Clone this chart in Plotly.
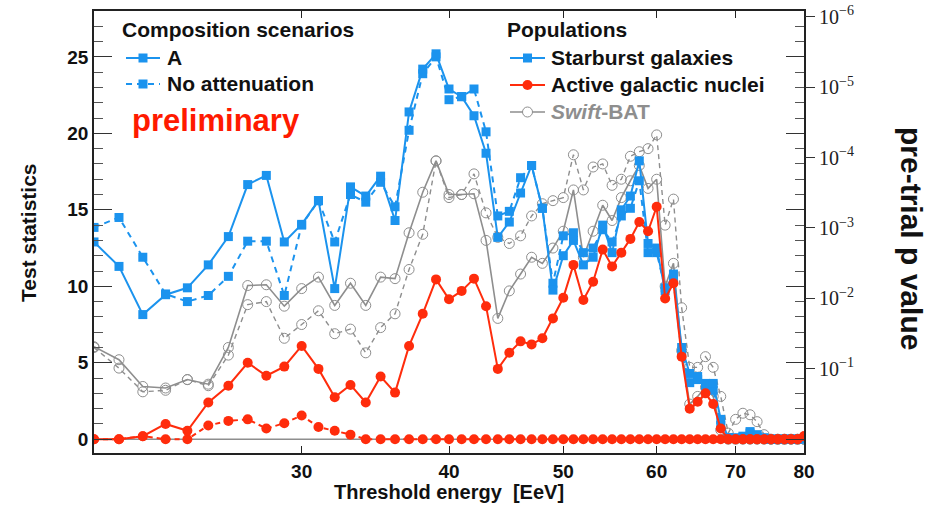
import numpy as np
import plotly.graph_objects as go

# Threshold energies [EeV]
energy = [20, 21, 22, 23, 24, 25, 26, 27, 28, 29,
          30, 31, 32, 33, 34, 35, 36, 37, 38, 39,
          40, 41, 42, 43, 44, 45, 46, 47, 48, 49,
          50, 51, 52, 53, 54, 55, 56, 57, 58, 59,
          60, 61, 62, 63, 64, 65, 66, 67, 68, 69,
          70, 71, 72, 73, 74, 75, 76, 77, 78, 79, 80]

# Test statistics, starburst galaxies
sbg_a = [12.9, 11.3, 8.15, 9.45, 9.9, 11.4, 13.25, 16.65, 17.25, 12.9,
         14.05, 15.6, 9.85, 16.5, 15.9, 17.2, 14.3, 21.4, 24.2, 25.2,
         22.9, 22.4, 21.15, 18.7, 13.2, 14.2, 16.1, 17.9, 15.1, 9.75,
         12.0, 13.0, 11.4, 11.9, 14.0, 12.2, 15.0, 15.9, 18.2, 12.8,
         12.5, 9.7, 10.8, 6.0, 4.3, 4.1, 3.65, 3.65, 1.3, 0.1,
         0.05, 0.1, 0.5, 0.2, 0.05, 0.0, 0.0, 0.0, 0.0, 0.0, 0.05]
sbg_noatt = [13.85, 14.5, 11.9, 9.5, 9.0, 9.4, 10.65, 12.95, 12.95, 9.4,
             14.0, 15.6, 12.9, 16.0, 15.5, 16.8, 15.2, 20.2, 23.9, 25.0,
             22.2, 22.4, 22.9, 20.1, 14.6, 14.9, 17.1, 17.9, 15.1, 10.2,
             13.3, 13.5, 12.2, 12.5, 13.7, 12.9, 14.6, 15.1, 16.9, 12.2,
             12.2, 9.9, 10.4, 5.6, 3.7, 3.9, 3.5, 3.2, 0.9, 0.1,
             0.1, 0.2, 0.4, 0.3, 0.1, 0.0, 0.0, 0.0, 0.0, 0.0, 0.0]

# Test statistics, active galactic nuclei
agn_a = [0.0, 0.0, 0.2, 1.0, 0.55, 2.4, 3.5, 5.0, 4.15, 4.75,
         6.1, 4.6, 2.75, 3.55, 2.4, 4.1, 3.05, 6.1, 8.2, 10.45,
         9.15, 9.7, 10.5, 8.7, 4.6, 5.65, 6.4, 6.2, 6.6, 7.9,
         9.25, 11.4, 9.1, 10.3, 12.4, 11.3, 12.2, 13.1, 14.2, 13.6,
         15.2, 9.2, 10.2, 5.4, 2.0, 2.45, 3.0, 2.3, 0.7, 0.0,
         0.0, 0.0, 0.0, 0.0, 0.0, 0.0, 0.0, 0.0, 0.0, 0.0, 0.2]
agn_noatt = [0.0, 0.0, 0.2, 0.0, 0.0, 0.9, 1.2, 1.3, 0.7, 1.05,
             1.55, 0.8, 0.55, 0.3, 0.0, 0.0, 0.0, 0.0, 0.0, 0.0,
             0.0, 0.0, 0.0, 0.0, 0.0, 0.0, 0.0, 0.0, 0.0, 0.0,
             0.0, 0.0, 0.0, 0.0, 0.0, 0.0, 0.0, 0.0, 0.0, 0.0,
             0.0, 0.0, 0.0, 0.0, 0.0, 0.0, 0.0, 0.0, 0.0, 0.0,
             0.0, 0.0, 0.0, 0.0, 0.0, 0.0, 0.0, 0.0, 0.0, 0.0, 0.2]

# Test statistics, Swift-BAT
bat_a = [6.05, 5.2, 3.45, 3.35, 3.9, 3.6, 6.0, 10.05, 10.1, 8.7,
         9.85, 10.6, 8.75, 10.2, 8.75, 10.6, 10.5, 13.5, 16.15, 18.2,
         16.0, 16.0, 16.05, 13.0, 7.9, 9.7, 10.8, 11.9, 11.5, 12.5,
         13.6, 16.3, 11.9, 13.6, 15.3, 14.3, 15.8, 16.9, 17.9, 16.4,
         17.0, 10.0, 11.5, 5.8, 2.3, 2.8, 3.4, 2.8, 0.6, 0.0,
         0.0, 0.0, 0.0, 0.0, 0.0, 0.0, 0.0, 0.0, 0.0, 0.0, 0.0]
bat_noatt = [6.0, 4.65, 3.1, 3.2, 3.9, 3.5, 5.5, 8.8, 9.0, 6.6,
             7.5, 8.4, 6.9, 7.2, 5.65, 7.3, 8.2, 11.1, 13.4, 18.2,
             15.8, 16.0, 17.35, 14.8, 13.2, 12.8, 13.3, 14.6, 15.4, 15.6,
             15.8, 18.6, 16.3, 17.8, 18.0, 16.6, 17.0, 18.5, 18.8, 19.0,
             19.9, 14.0, 15.7, 8.6, 4.7, 4.7, 5.4, 4.7, 2.8, 0.4,
             1.3, 1.7, 1.6, 1.15, 0.3, 0.0, 0.0, 0.0, 0.0, 0.0, 0.0]

# Right-hand axis: pre-trial p values, TS = -2 ln p
p_values = [1e-1, 1e-2, 1e-3, 1e-4, 1e-5, 1e-6]
p_labels = ["10<sup>\u22121</sup>", "10<sup>\u22122</sup>", "10<sup>\u22123</sup>",
            "10<sup>\u22124</sup>", "10<sup>\u22125</sup>", "10<sup>\u22126</sup>"]
p_ts = [-2.0 * np.log(p) for p in p_values]

x_ticks = [30, 40, 50, 60, 70, 80]

BLUE = "#1b93ee"
RED = "#ff2c0c"
GRAY = "#8e8e8e"
SANS = "Liberation Sans"
SERIF = "Liberation Serif"

# Plot-area geometry in pixels (used to place the hand-built legends)
W, H = 931, 509
ML, MR, MT, MB = 94, 127, 11, 56
PW, PH = W - ML - MR, H - MT - MB


def px(x):
    return (x - ML) / PW


def py(y):
    return (H - MB - y) / PH


fig = go.Figure()


def series(y, color, dash, symbol, size, width=2.0, mline=0):
    fig.add_trace(go.Scatter(
        x=energy, y=y, mode="lines+markers", showlegend=False,
        line=dict(color=color, width=width, dash=dash),
        marker=dict(symbol=symbol, size=size, color=color,
                    line=dict(color=color, width=mline)),
    ))


# Swift-BAT (drawn first, underneath)
series(bat_noatt, GRAY, "5px,4px", "circle-open", 10, width=1.4, mline=1)
series(bat_a, GRAY, "solid", "circle-open", 10, width=1.6, mline=1)
# Starburst galaxies
series(sbg_noatt, BLUE, "6px,5px", "square", 9)
series(sbg_a, BLUE, "solid", "square", 9)
# Active galactic nuclei
series(agn_noatt, RED, "5px,4px", "circle", 10)
series(agn_a, RED, "solid", "circle", 10)

# Invisible carrier so the p-value axis is drawn
fig.add_trace(go.Scatter(
    x=energy[:1], y=[None], yaxis="y2", mode="markers",
    marker=dict(opacity=0), showlegend=False, hoverinfo="skip",
))

shapes = [
    # Baseline at TS = 0
    dict(type="line", xref="paper", x0=0, x1=1, yref="y", y0=0, y1=0,
         line=dict(color=GRAY, width=1.5), layer="below"),
]
annotations = []

legend_font = dict(family=SANS, size=21, color="#111", weight="bold")


def key(x_left, x_right, y, color, dash, marker, filled=True, width=2.0):
    """Legend key: a short line with a marker in its middle."""
    shapes.append(dict(type="line", xref="paper", yref="paper",
                       x0=px(x_left), x1=px(x_right), y0=py(y), y1=py(y),
                       line=dict(color=color, width=width, dash=dash)))
    r = 4.5 if marker == "rect" else 5
    shapes.append(dict(type=marker, xref="paper", yref="paper",
                       xsizemode="pixel", ysizemode="pixel",
                       xanchor=px((x_left + x_right) / 2), yanchor=py(y),
                       x0=-r, x1=r, y0=-r, y1=r,
                       fillcolor=color if filled else "white",
                       line=dict(color=color, width=1 if not filled else 0)))


def label(text, x, y, font=legend_font):
    annotations.append(dict(text=text, xref="paper", yref="paper", x=px(x), y=py(y),
                            xanchor="left", yanchor="middle", showarrow=False, font=font))


# Composition scenarios legend
label("Composition scenarios", 120, 30)
key(126, 160, 58, BLUE, "solid", "rect")
label("A", 165, 58)
key(126, 160, 84, BLUE, "6px,5px", "rect")
label("No attenuation", 165, 84)

# Populations legend
label("Populations", 505, 30)
key(510, 545, 58, BLUE, "solid", "rect")
label("Starburst galaxies", 549, 58)
key(510, 545, 85, RED, "solid", "circle")
label("Active galactic nuclei", 549, 85)
key(510, 545, 112, GRAY, "solid", "circle", filled=False, width=1.6)
label("<i>Swift</i>-BAT", 549, 112, dict(legend_font, color="#8e8e8e"))

annotations += [
    dict(text="preliminary", xref="paper", yref="paper", x=px(216), y=py(120),
         xanchor="center", yanchor="middle", showarrow=False,
         font=dict(family=SANS, size=31, color="#ff1a00", weight="bold")),
    dict(text="Threshold energy  [EeV]", xref="paper", yref="paper", x=0.5, y=py(492),
         xanchor="center", yanchor="middle", showarrow=False,
         font=dict(family=SANS, size=20, color="#111", weight="bold")),
    dict(text="Test statistics", xref="paper", yref="paper", x=px(28), y=py(233),
         xanchor="center", yanchor="middle", textangle=-90, showarrow=False,
         font=dict(family=SANS, size=21, color="#111", weight="bold")),
    dict(text="pre-trial p value", xref="paper", yref="paper", x=px(911), y=py(238),
         xanchor="center", yanchor="middle", textangle=90, showarrow=False,
         font=dict(family=SANS, size=30, color="#111", weight="bold")),
]

axis_font = dict(family=SANS, size=19, color="#111", weight="bold")

fig.update_layout(
    width=W, height=H,
    margin=dict(l=ML, r=MR, t=MT, b=MB, autoexpand=False),
    paper_bgcolor="white", plot_bgcolor="white",
    showlegend=False,
    xaxis=dict(
        type="log", range=[np.log10(20), np.log10(80)], automargin=False,
        tickmode="array", tickvals=x_ticks, ticktext=[str(v) for v in x_ticks],
        ticks="inside", ticklen=7, tickwidth=1.2, tickcolor="#222",
        showline=True, linecolor="#222", linewidth=1.6, mirror="ticks",
        showgrid=False, zeroline=False, tickfont=axis_font,
    ),
    yaxis=dict(
        range=[-0.9, 28], tickmode="linear", tick0=0, dtick=5, automargin=False,
        ticks="inside", ticklen=18, tickwidth=1.2, tickcolor="#333",
        minor=dict(dtick=1, tick0=0, ticks="inside", ticklen=9, tickwidth=1.0,
                   tickcolor="#555"),
        showline=True, linecolor="#222", linewidth=1.6, mirror="ticks",
        showgrid=False, zeroline=False, tickfont=axis_font,
    ),
    yaxis2=dict(
        overlaying="y", side="right", anchor="x", range=[-0.9, 28], automargin=False,
        tickmode="array", tickvals=p_ts, ticktext=p_labels,
        ticks="outside", ticklen=10, tickwidth=1.2, tickcolor="#333",
        showline=False, showgrid=False, zeroline=False,
        tickfont=dict(family=SERIF, size=20, color="#222"),
    ),
    shapes=shapes,
    annotations=annotations,
)

fig.write_html("out.html")
